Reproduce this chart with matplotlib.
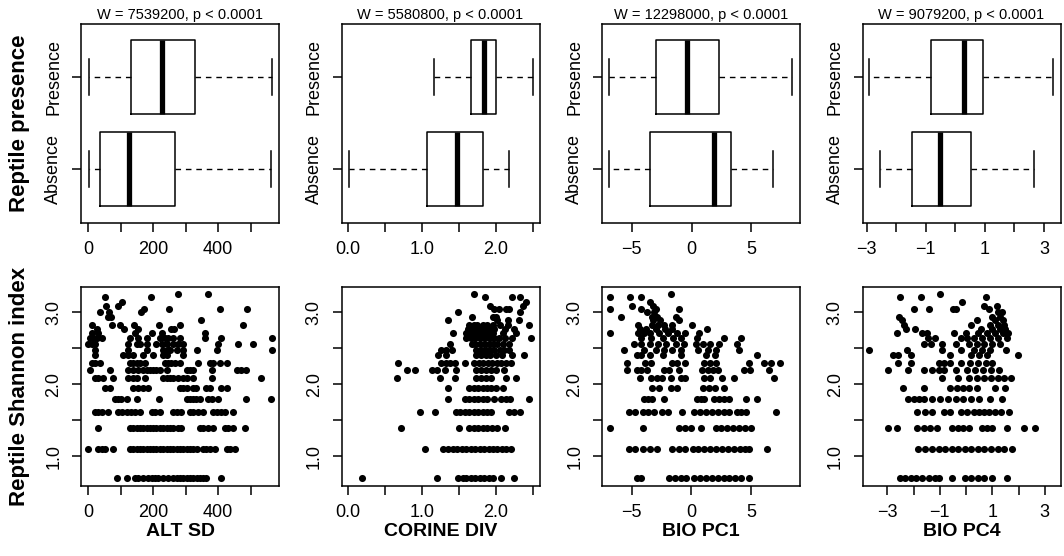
import numpy as np
import matplotlib
matplotlib.use("Agg")
import matplotlib.pyplot as plt

plt.rcParams['font.family'] = ['Liberation Sans', 'DejaVu Sans']

# ---- boxplot summaries (Absence, Presence) ----
box_titles = ["W = 7539200, p < 0.0001", "W = 5580800, p < 0.0001",
              "W = 12298000, p < 0.0001", "W = 9079200, p < 0.0001"]
group_names = ["Absence", "Presence"]
# each entry: [whislo, q1, med, q3, whishi]
altsd_box = [[1, 37, 125, 268, 563], [1, 130, 227, 329, 565]]
corine_box = [[0.01, 1.07, 1.48, 1.83, 2.18], [1.16, 1.66, 1.84, 2.00, 2.50]]
biopc1_box = [[-6.86, -3.46, 1.84, 3.31, 6.80], [-6.86, -2.97, -0.34, 2.32, 8.41]]
biopc4_box = [[-2.55, -1.46, -0.52, 0.54, 2.66], [-2.91, -0.82, 0.28, 0.93, 3.29]]

var_names = ["ALT SD", "CORINE DIV", "BIO PC1", "BIO PC4"]

# ---- scatter: Shannon index level -> x values of sites at that level ----
altsd_pts = {
    3.26: [370, 275], 3.22: [51, 192], 3.14: [103], 3.09: [54, 92],
    3.04: [172, 249, 405, 489], 3.00: [36, 64, 162], 2.94: [62, 70], 2.89: [346],
    2.83: [12, 72, 97, 140, 218, 284, 477],
    2.77: [28, 110, 152, 256, 265],
    2.71: [10, 31, 144, 195, 226, 359],
    2.64: [5, 15, 26, 41, 128, 154, 180, 221, 236, 246, 262, 282, 359, 410, 565],
    2.56: [0, 10, 20, 123, 149, 159, 180, 210, 226, 241, 262, 277, 292, 400, 462, 508],
    2.48: [20, 123, 180, 231, 246, 252, 272, 292, 334, 395, 565],
    2.40: [20, 108, 123, 138, 169, 200, 231, 241, 292],
    2.30: [10, 20, 36, 128, 138, 149, 159, 174, 236, 246, 256, 267, 282, 339, 374, 385, 405, 426],
    2.20: [5, 67, 123, 138, 154, 169, 180, 190, 200, 210, 221, 241, 303, 313, 323, 380, 457, 472, 487],
    2.08: [20, 31, 46, 77, 123, 138, 149, 174, 231, 241, 251, 262, 277, 292, 303, 323, 380, 533],
    1.95: [51, 67, 138, 154, 169, 185, 282, 292, 303, 323, 333, 364, 374, 410, 426],
    1.79: [82, 92, 102, 118, 149, 218, 303, 313, 323, 333, 344, 369, 380, 400, 487, 564],
    1.61: [21, 31, 41, 61, 92, 103, 118, 133, 144, 159, 195, 205, 221, 262, 272, 287, 313,
           323, 339, 354, 385, 395, 410, 421, 446],
    1.39: [31, 128, 138, 149, 159, 169, 180, 190, 200, 210, 221, 231, 241, 251, 262, 277,
           287, 344, 354, 369, 385, 421, 431, 446, 482],
    1.10: [0, 31, 41, 51, 77, 128, 138, 149, 159, 169, 180, 190, 200, 210, 221, 231, 241,
           251, 262, 272, 282, 292, 303, 313, 323, 334, 354, 364, 374, 390, 426, 436, 451],
    0.69: [87, 118, 144, 154, 169, 185, 195, 205, 215, 231, 246, 262, 272, 282, 292, 303,
           313, 323, 334, 344, 354, 364, 410],
}
corine_pts = {
    3.26: [1.70], 3.22: [1.85, 2.22, 2.33], 3.14: [2.41], 3.09: [1.92, 2.36],
    3.04: [1.98, 2.04, 2.13, 2.18], 3.00: [1.49, 2.33], 2.94: [1.68, 1.96, 2.00],
    2.89: [1.35, 2.01, 2.16, 2.31],
    2.83: [1.64, 1.70, 1.75, 1.82, 1.88, 1.96, 2.06, 2.16, 2.45],
    2.77: [1.62, 1.68, 1.73, 1.78, 1.85, 1.90, 1.98, 2.12, 2.25],
    2.71: [1.42, 1.60, 1.66, 1.72, 1.78, 1.84, 1.90, 1.96, 2.09, 2.27],
    2.64: [1.60, 1.66, 1.72, 1.79, 1.85, 1.92, 1.98, 2.04, 2.12, 2.22, 2.48],
    2.56: [1.38, 1.67, 1.72, 1.78, 1.84, 1.90, 1.96, 2.02, 2.10, 2.18],
    2.48: [1.26, 1.33, 1.41, 1.73, 1.80, 1.86, 1.92, 1.98, 2.05, 2.11, 2.18],
    2.40: [1.22, 1.33, 1.73, 1.80, 1.86, 1.92, 2.00, 2.08, 2.22, 2.38],
    2.30: [0.68, 1.26, 1.32, 1.38, 1.45, 1.58, 1.71, 1.77, 1.83, 1.89, 1.95, 2.01, 2.07, 2.13, 2.20],
    2.20: [0.79, 0.91, 1.13, 1.20, 1.31, 1.46, 1.73, 1.80, 1.87, 1.93, 2.00, 2.11],
    2.08: [0.66, 1.24, 1.44, 1.73, 1.80, 1.87, 1.93, 2.13, 2.27],
    1.95: [1.35, 1.64, 1.70, 1.76, 1.82, 1.88, 1.94, 2.00, 2.09],
    1.79: [1.35, 1.58, 1.64, 1.70, 1.76, 1.82, 1.88, 1.98, 2.07, 2.13, 2.19, 2.45],
    1.61: [0.97, 1.17, 1.46, 1.52, 1.58, 1.64, 1.70, 1.76, 1.82, 1.88, 1.94, 2.18, 2.25, 2.33],
    1.39: [0.72, 1.50, 1.64, 1.70, 1.76, 1.82, 1.88, 1.95, 2.02, 2.12],
    1.10: [1.04, 1.29, 1.35, 1.42, 1.48, 1.54, 1.60, 1.66, 1.72, 1.78, 1.84, 1.90, 1.96,
           2.02, 2.08, 2.14, 2.20],
    0.69: [0.19, 1.20, 1.49, 1.55, 1.60, 1.66, 1.72, 1.78, 1.84, 1.90, 1.96, 2.07, 2.25],
}
biopc1_pts = {
    3.26: [-1.68], 3.22: [-6.82, -5.17, -4.25], 3.14: [-3.46], 3.09: [-4.94, -3.2],
    3.04: [-6.82, -4.25, -3.0, -1.03], 3.00: [-3.69, -3.1],
    2.94: [-5.87, -3.3, -2.9, -1.3], 2.89: [-3.2, -2.6, -1.0],
    2.83: [-4.45, -3.3, -2.8, -2.3, -1.6, 0.08],
    2.77: [-4.3, -3.8, -3.0, -2.2, -1.6, 1.34],
    2.71: [-6.82, -4.5, -4.0, -3.5, -2.7, -2.0, -1.2, -0.5, 0.64],
    2.64: [-4.2, -3.4, -2.4, -1.5, -0.9, 0.5, 2.74, 4.13],
    2.56: [-4.8, -4.2, -3.5, -2.8, -2.1, -1.3, -0.6, 0.4, 1.0, 1.6, 2.3, 3.85],
    2.48: [-5.64, -4.0, -3.0, -2.3, -1.6, -0.9, 0.6, 1.4, 2.1, 4.0],
    2.40: [-4.6, -4.2, -3.5, -2.4, -0.9, 1.2, 2.0, 5.53],
    2.30: [-5.36, -3.9, -3.4, -1.6, -1.2, -0.5, 1.1, 1.6, 2.1, 4.83, 6.1, 6.65, 7.43],
    2.20: [-5.36, -4.6, -4.2, -3.7, -2.3, -1.9, -1.03, 0.9, 1.4, 1.8, 2.2, 4.4, 4.9, 6.5],
    2.08: [-4.3, -3.4, -2.9, -2.5, -1.7, -0.9, -0.5, 1.1, 1.6, 2.6, 3.6, 6.9],
    1.95: [-3.27, -2.7, -1.7, -1.2, 1.0, 1.5, 2.0, 2.7],
    1.79: [-3.97, -3.6, -3.27, -2.29, 0.5, 0.8, 1.06, 1.9, 2.3, 2.7, 3.16, 4.55, 5.53],
    1.61: [-5.22, -4.7, -4.1, -3.6, -3.1, -2.5, -2.0, -0.75, 0.22, 0.7, 1.2, 1.7, 2.2, 2.7,
           3.16, 3.85, 4.2, 4.55, 7.07],
    1.39: [-6.82, -4.02, -1.03, -0.5, 0.0, 0.78, 2.04, 2.5, 3.0, 3.5, 4.0, 4.5, 4.97],
    1.10: [-5.22, -4.7, -4.1, -3.5, -2.85, -1.59, -1.0, -0.5, 0.1, 0.6, 1.1, 1.6, 2.1, 2.6,
           3.1, 3.6, 4.1, 4.5, 4.83, 6.37],
    0.69: [-4.6, -4.2, -1.87, -1.4, -0.9, -0.47, 0.22, 0.7, 1.2, 1.7, 2.2, 2.7, 3.2, 3.7,
           4.2, 4.83],
}
biopc4_pts = {
    3.26: [-1.0], 3.22: [-2.52, -1.73, 0.76], 3.14: [-0.15], 3.09: [0.68, 1.17],
    3.04: [-1.97, -1.41, -0.5, -0.4, 0.86], 3.00: [1.2, 1.37],
    2.94: [-2.55, 1.0, 1.3], 2.89: [-2.45, 0.41, 1.1, 1.4],
    2.83: [-2.35, 0.2, 0.9, 1.2, 1.45],
    2.77: [-2.3, -1.94, 0.55, 1.0, 1.3, 1.5],
    2.71: [-2.64, -1.69, -1.5, -0.45, 0.0, 0.45, 0.8, 1.1, 1.4, 1.6],
    2.64: [-1.45, -1.2, -0.2, 0.05, 0.3, 0.6, 0.9, 1.2, 1.55],
    2.56: [-1.6, -1.35, -0.9, -0.4, 0.1, 0.4, 0.7, 1.0, 1.3],
    2.48: [-3.70, -2.26, -0.9, -0.2, 0.3, 0.6, 0.9, 1.54],
    2.40: [-2.8, -2.6, -2.1, -0.6, 0.2, 0.5, 0.8, 1.97],
    2.30: [-2.6, -2.1, -1.05, -0.85, -0.6, -0.2, 0.15, 0.45, 0.75, 1.0],
    2.20: [-2.98, -2.2, -1.6, -1.3, -1.05, -0.85, -0.4, 0.05, 0.35, 0.65, 0.95, 1.25],
    2.08: [-0.9, -0.3, 0.1, 0.4, 0.7, 0.95, 1.2, 1.45, 1.7],
    1.95: [-2.4, -1.6, -0.6, -0.35, -0.1, 0.1, 0.4, 1.1, 1.5],
    1.79: [-2.2, -2.0, -1.8, -1.62, -1.3, -1.0, -0.7, -0.4, -0.1, 0.2, 0.48, 0.93, 1.37],
    1.61: [-1.88, -1.56, -1.3, -0.85, -0.6, -0.21, 0.05, 0.3, 0.5, 0.68, 0.86, 1.1, 1.35, 1.62],
    1.39: [-2.96, -2.64, -1.88, -1.6, -1.38, -1.1, -0.53, -0.3, -0.1, 0.1, 0.61, 0.8, 0.99,
           1.56, 2.20, 2.64],
    1.10: [-1.82, -1.55, -1.3, -1.05, -0.8, -0.55, -0.3, -0.05, 0.2, 0.45, 0.7, 0.95, 1.2,
           1.45, 1.75],
    0.69: [-2.52, -2.32, -2.1, -1.9, -1.69, -1.43, -1.2, -1.04, -0.53, -0.03, 0.2, 0.45,
           0.7, 0.99, 1.56],
}

boxes = [altsd_box, corine_box, biopc1_box, biopc4_box]
points = [altsd_pts, corine_pts, biopc1_pts, biopc4_pts]

# axis ticks / labels per column
xticks = [[0, 100, 200, 300, 400, 500],
          [0, 0.5, 1.0, 1.5, 2.0, 2.5],
          [-5, 0, 5],
          [-3, -2, -1, 0, 1, 2, 3]]
xticklabels = [["0", "", "200", "", "400", ""],
               ["0.0", "", "1.0", "", "2.0", ""],
               ["\u22125", "0", "5"],
               ["\u22123", "", "\u22121", "", "1", "", "3"]]
top_xlim = [(-22.6, 587.6), (-0.09, 2.59), (-7.47, 9.05), (-3.14, 3.56)]
bot_xlim = [(-22.6, 587.6), (-0.09, 2.59), (-7.5, 9.12), (-3.95, 3.6)]

W, H = 1064, 556
fig = plt.figure(figsize=(W / 100, H / 100), dpi=100)

lefts = [81, 341.5, 602, 862.5]
aw, ah = 198, 199


def style_axes(ax):
    for s in ax.spines.values():
        s.set_linewidth(1.1)
    ax.tick_params(direction='out', length=6.5, width=1.1, labelsize=13, pad=7)


for i in range(4):
    # ---------- top row: boxplots ----------
    ax = fig.add_axes([lefts[i] / W, 1 - 222.5 / H, aw / W, ah / H])
    stats = []
    for name, b in zip(group_names, boxes[i]):
        stats.append(dict(label=name, whislo=b[0], q1=b[1], med=b[2], q3=b[3],
                          whishi=b[4], fliers=[]))
    ax.bxp(stats, orientation='horizontal', widths=0.8, capwidths=0.4,
           showfliers=False,
           boxprops=dict(color='black', linewidth=1.1),
           medianprops=dict(color='black', linewidth=3.8, solid_capstyle='butt'),
           whiskerprops=dict(color='black', linewidth=1.0, linestyle=(0, (4, 3.5))),
           capprops=dict(color='black', linewidth=1.1))
    ax.set_ylim(0.42, 2.58)
    ax.set_xlim(*top_xlim[i])
    ax.set_yticks([1, 2])
    ax.set_yticklabels(group_names, rotation=90, va='center')
    ax.set_xticks(xticks[i])
    ax.set_xticklabels(xticklabels[i])
    ax.set_title(box_titles[i], fontsize=10.5, pad=3)
    style_axes(ax)

    # ---------- bottom row: scatter ----------
    ax2 = fig.add_axes([lefts[i] / W, 1 - 485.5 / H, aw / W, ah / H])
    xs, ys = [], []
    for lev, vals in points[i].items():
        xs.extend(vals)
        ys.extend([lev] * len(vals))
    ax2.scatter(xs, ys, s=26, c='black', linewidths=0)
    ax2.set_ylim(0.59, 3.36)
    ax2.set_xlim(*bot_xlim[i])
    ax2.set_yticks([1.0, 1.5, 2.0, 2.5, 3.0])
    ax2.set_yticklabels(["1.0", "", "2.0", "", "3.0"], rotation=90, va='center')
    ax2.set_xticks(xticks[i])
    ax2.set_xticklabels(xticklabels[i])
    style_axes(ax2)

    fig.text((lefts[i] + aw / 2) / W, 1 - 531 / H, var_names[i],
             fontsize=14, fontweight='bold', ha='center', va='center')

fig.text(20 / W, 1 - 123 / H, "Reptile presence", rotation=90, fontsize=16,
         fontweight='bold', ha='center', va='center')
fig.text(20 / W, 1 - 386 / H, "Reptile Shannon index", rotation=90, fontsize=16,
         fontweight='bold', ha='center', va='center')

fig.savefig("out.png", dpi=100)
